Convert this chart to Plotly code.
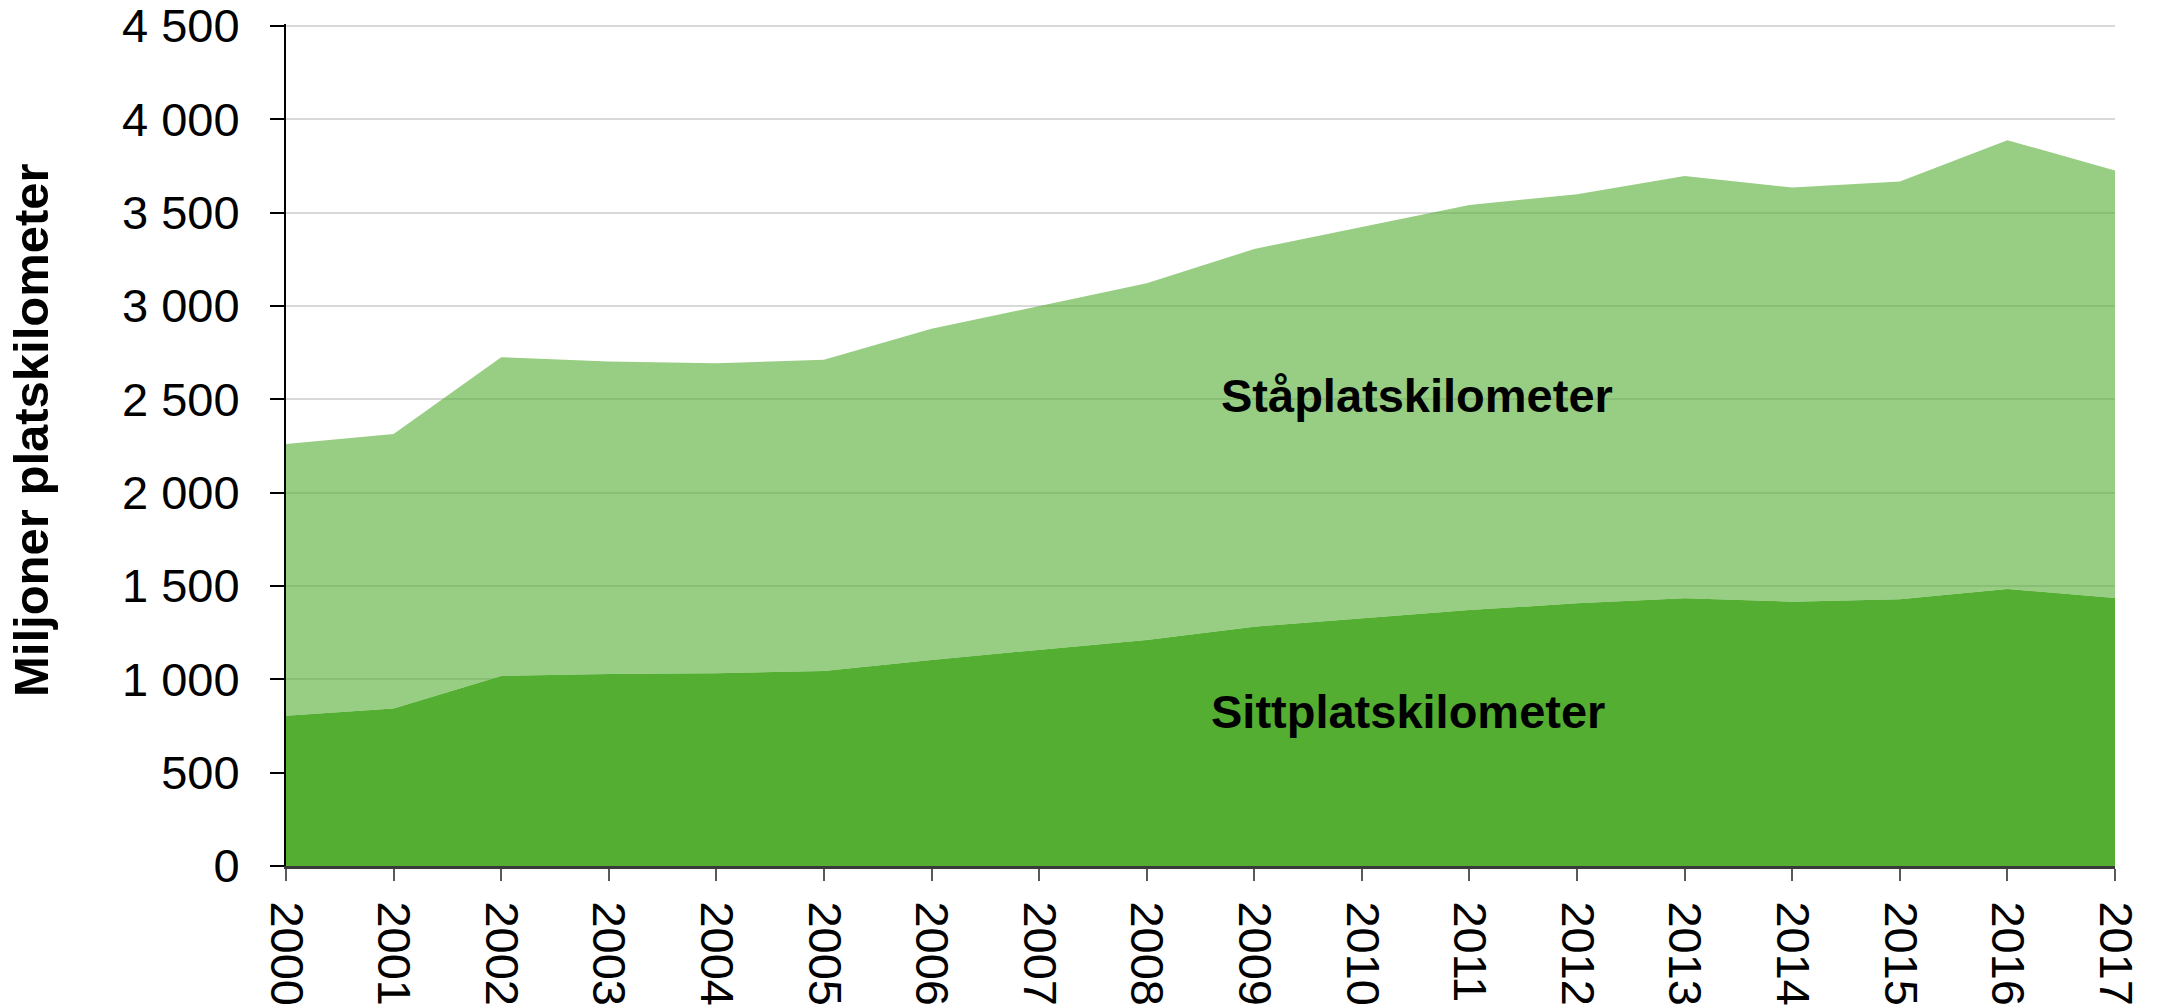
import plotly.graph_objects as go

years = list(range(2000, 2018))
year_labels = [str(y) for y in years]

sittplats = [805, 843, 1018, 1029, 1032, 1045, 1104, 1157, 1211, 1282,
             1327, 1371, 1407, 1434, 1416, 1429, 1484, 1436]
staplats = [1456, 1471, 1707, 1673, 1661, 1666, 1773, 1840, 1910, 2023,
            2098, 2170, 2191, 2262, 2218, 2237, 2404, 2289]

y_ticks = [0, 500, 1000, 1500, 2000, 2500, 3000, 3500, 4000, 4500]
y_tick_labels = ["0", "500", "1 000", "1 500", "2 000", "2 500",
                 "3 000", "3 500", "4 000", "4 500"]

FONT = "Liberation Sans, Arial, sans-serif"
DARK = "#54AE32"
LIGHT = "rgba(84,174,50,0.6)"

fig = go.Figure()
fig.add_trace(go.Scatter(
    x=years, y=sittplats, name="Sittplatskilometer", mode="lines",
    stackgroup="one", line=dict(width=0, color=DARK), fillcolor=DARK,
))
fig.add_trace(go.Scatter(
    x=years, y=staplats, name="Ståplatskilometer", mode="lines",
    stackgroup="one", line=dict(width=0, color=LIGHT), fillcolor=LIGHT,
))

fig.update_layout(
    width=2157, height=1008,
    margin=dict(l=286, r=42, t=24, b=142),
    paper_bgcolor="white", plot_bgcolor="white",
    showlegend=False,
    font=dict(family=FONT, color="black"),
)

fig.update_xaxes(
    range=[2000, 2017], tickvals=years, ticktext=year_labels,
    tickangle=90, tickfont=dict(size=47, family=FONT, color="black"),
    showgrid=False, zeroline=False, automargin=False,
    showline=True, linecolor="#3a3a3a", linewidth=3,
    ticks="outside", ticklen=12, tickwidth=2, tickcolor="#595959",
    ticklabelstandoff=11, ticklabeloverflow="allow",
)
fig.update_yaxes(
    range=[0, 4510], tickvals=y_ticks, ticktext=y_tick_labels,
    tickfont=dict(size=47, family=FONT, color="black"),
    showgrid=True, gridcolor="#D9D9D9", gridwidth=2, zeroline=False,
    automargin=False,
    showline=True, linecolor="black", linewidth=2,
    ticks="outside", ticklen=14, tickwidth=2, tickcolor="black",
    ticklabelstandoff=21, ticklabeloverflow="allow",
)

fig.add_annotation(
    text="<b>Miljoner platskilometer</b>", textangle=-90,
    xref="paper", yref="paper", x=(31 - 286) / 1829, y=(866 - 430) / 842,
    xanchor="center", yanchor="middle", showarrow=False,
    font=dict(size=49, family=FONT, color="black"),
)
fig.add_annotation(
    text="<b>Ståplatskilometer</b>", x=2010.51, y=2520,
    xanchor="center", yanchor="middle", showarrow=False,
    font=dict(size=47, family=FONT, color="black"),
)
fig.add_annotation(
    text="<b>Sittplatskilometer</b>", x=2010.43, y=830,
    xanchor="center", yanchor="middle", showarrow=False,
    font=dict(size=47, family=FONT, color="black"),
)

fig.write_html(
    "out.html",
    config={"displayModeBar": False},
    post_script="document.body.style.margin='0';document.body.style.overflow='hidden';",
)
